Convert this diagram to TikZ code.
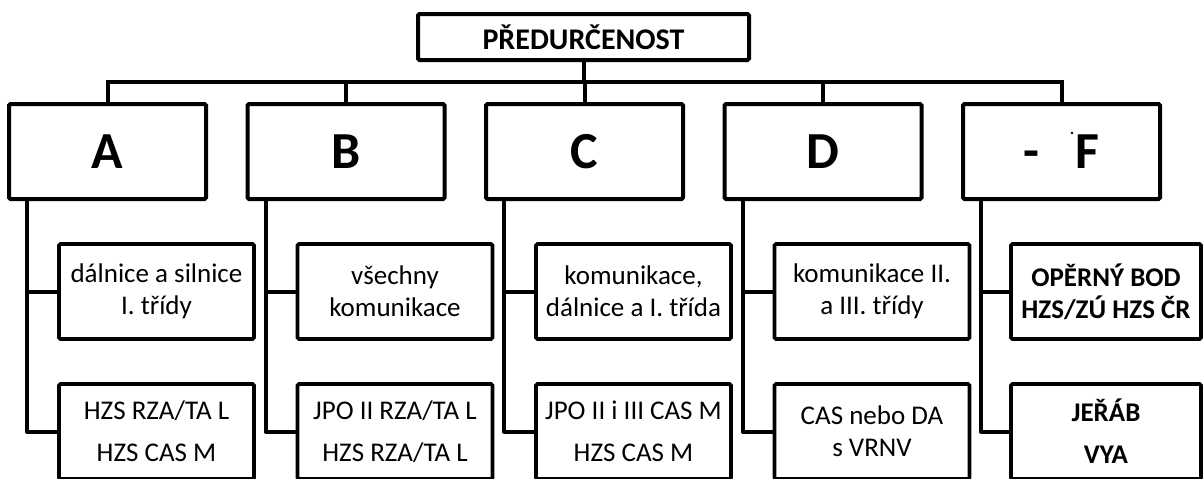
\documentclass[tikz,border=0pt]{standalone}
\usepackage{fontspec}
\setmainfont{Carlito}
\usetikzlibrary{calc}
\tikzset{
  line/.style={line width=4pt, line cap=rect},
  topbox/.style={draw, line width=4pt, rounded corners=1.5pt, minimum width=331pt, minimum height=46pt, inner sep=0pt, font=\fontsize{30}{34}\selectfont\bfseries},
  catbox/.style={draw, line width=4pt, rounded corners=1.5pt, minimum width=197pt, minimum height=95pt, inner sep=0pt, font=\fontsize{52}{56}\selectfont\bfseries},
  itembox/.style={draw, line width=3.6pt, rounded corners=1.5pt, minimum width=195pt, minimum height=95pt, inner sep=0pt, align=center, font=\fontsize{27}{32}\selectfont},
  bolditem/.style={itembox, minimum width=190pt, font=\fontsize{27}{32}\selectfont\bfseries},
}
\begin{document}
\begin{tikzpicture}[x=1pt, y=-1pt]
\useasboundingbox (0,0) rectangle (1203,479);
\clip (0,0) rectangle (1203,479);
\fill[white] (0,0) rectangle (1203,479);

\node[topbox] (top) at (583.5,37) {PŘEDURČENOST};

\node[catbox] (nA) at (107.5,151.5) {A};
\node[catbox] (nB) at (346,151.5) {B};
\node[catbox] (nC) at (584.5,151.5) {C};
\node[catbox] (nD) at (823,151.5) {D};
\node[catbox] (nF) at (1061.5,151.5) {-\hspace{0.7em}F};
\fill (1072,133) circle (1.3pt);

% top connectors
\coordinate (bar) at (0,82);
\draw[line] (top.south) -- (top.south |- bar);
\draw[line] (nA.north) -- (nA.north |- bar) -- (nF.north |- bar) -- (nF.north);
\foreach \n in {nB,nC,nD}{
  \draw[line] (\n.north) -- (\n.north |- bar);
}

% level 3 boxes
\node[itembox] (a1) at (156.5,291.5) {dálnice a silnice\\I. třídy};
\node[itembox] (a2) at (156.5,431.5) {HZS RZA/TA L\\[10pt]HZS CAS M};
\node[itembox] (b1) at (395,291.5) {všechny\\komunikace};
\node[itembox] (b2) at (395,431.5) {JPO II RZA/TA L\\[10pt]HZS RZA/TA L};
\node[itembox] (c1) at (633.5,291.5) {komunikace,\\dálnice a I. třída};
\node[itembox] (c2) at (633.5,431.5) {JPO II i III CAS M\\[10pt]HZS CAS M};
\node[itembox] (d1) at (872,291.5) {komunikace II.\\a III. třídy};
\node[itembox] (d2) at (872,431.5) {CAS nebo DA\\s VRNV};
\node[bolditem] (f1) at (1106,291.5) {OPĚRNÝ BOD\\HZS/ZÚ HZS ČR};
\node[bolditem] (f2) at (1106,431.5) {JEŘÁB\\[10pt]VYA};

% side connectors
\foreach \p/\a/\b in {nA/a1/a2, nB/b1/b2, nC/c1/c2, nD/d1/d2, nF/f1/f2}{
  \coordinate (s\p) at ($(\p.south west)+(20,0)$);
  \draw[line, line cap=butt, line join=round] (s\p) |- (\b.west);
  \draw[line, line cap=butt] (s\p |- \a.west) -- (\a.west);
}
\end{tikzpicture}
\end{document}
